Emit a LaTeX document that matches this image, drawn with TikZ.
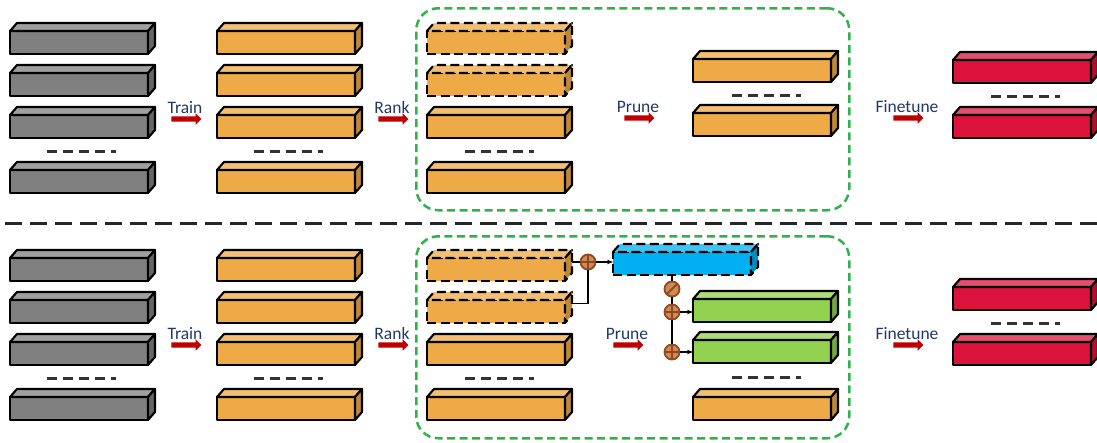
\documentclass[tikz,border=0pt]{standalone}
\usepackage{fontspec}
\setmainfont{Carlito}
\usetikzlibrary{positioning,calc,shapes.arrows,arrows.meta}

\definecolor{slabgray}{HTML}{808080}
\definecolor{slaborange}{HTML}{EEAA47}
\definecolor{slabred}{HTML}{DC143C}
\definecolor{slabblue}{HTML}{00B0F0}
\definecolor{slabgreen}{HTML}{92D050}
\definecolor{stepred}{HTML}{C00000}
\definecolor{steptext}{HTML}{203864}
\definecolor{boxgreen}{HTML}{2DB34A}
\definecolor{opbrown}{HTML}{8E4A1E}
\definecolor{opfill}{HTML}{D08A55}

\tikzset{
  slabfront/.style={draw=black, line width=2.1pt, line join=round, minimum width=138pt,
    minimum height=23pt, inner sep=0pt, outer sep=0pt, anchor=north west},
  slabface/.style={draw=black, line width=2.1pt, line join=round},
  hollow/.style={dash pattern=on 9pt off 4.5pt},
  stepnote/.style={text=steptext, font=\fontsize{17.5}{18}\selectfont, inner sep=1pt},
  steparrow/.style={single arrow, fill=stepred, minimum height=30pt, text height=5pt,
    text depth=0pt, text width=0pt, inner sep=0pt, single arrow head extend=3pt,
    single arrow head indent=0pt},
  gapdots/.style={draw=black!80, line width=3pt, dash pattern=on 10pt off 6pt},
  prunebox/.style={draw=boxgreen, line width=2.5pt, dash pattern=on 8pt off 4.5pt,
    rounded corners=22pt, minimum width=433pt, minimum height=202pt, anchor=north west},
  sepline/.style={draw=black!85, line width=3pt, dash pattern=on 17pt off 8pt},
  opnode/.style={circle, draw=opbrown, fill=opfill, line width=1.8pt, minimum size=15pt, inner sep=0pt},
  oplus/.style={opnode, path picture={\draw[opbrown, line width=1.8pt]
    (path picture bounding box.north) -- (path picture bounding box.south)
    (path picture bounding box.west) -- (path picture bounding box.east);}},
  odiv/.style={opnode, path picture={\draw[opbrown, line width=1.8pt]
    (path picture bounding box.north east) -- (path picture bounding box.south west);}},
  link/.style={draw=black, line width=1.5pt},
}

% one 3d bar: [style] name, x, y (front top left), colour
\newcommand{\slab}[5][]{%
  \node[slabfront, fill=#5, #1] (#2) at (#3,#4) {};
  \filldraw[slabface, fill=#5!75!white, #1] (#2.north west) -- ++(7,-8) -- ++(138,0) -- (#2.north east) -- cycle;
  \filldraw[slabface, fill=#5!80!black, #1] (#2.north east) -- ++(7,-8) -- ++(0,23) -- (#2.south east) -- cycle;
  \coordinate (#2-s) at ($(#2.east)+(7,-8)$);
}

\begin{document}
\begin{tikzpicture}[x=1pt,y=-1pt]
\useasboundingbox (0,0) rectangle (1097,442);

% upper row
\foreach \r/\y in {1/31,2/73,3/115,4/170}{
  \slab{ga\r}{10}{\y}{slabgray}
  \slab{oa\r}{217}{\y}{slaborange}
}
\node[prunebox] (box1) at (415,7) {};
\slab[hollow]{ra1}{427}{31}{slaborange}
\slab[hollow]{ra2}{427}{73}{slaborange}
\slab{ra3}{427}{115}{slaborange}
\slab{ra4}{427}{170}{slaborange}
\slab{pa1}{693}{59}{slaborange}
\slab{pa2}{693}{113}{slaborange}
\slab{fa1}{953}{60}{slabred}
\slab{fa2}{953}{115}{slabred}
\draw[gapdots] (47,151) -- ++(69,0);
\draw[gapdots] (254,151) -- ++(69,0);
\draw[gapdots] (465,151) -- ++(69,0);
\draw[gapdots] (732,95) -- ++(69,0);
\draw[gapdots] (991,96) -- ++(69,0);

\node[steparrow] (ar1) at (185,119) {};
\node[stepnote, above=1pt of ar1] (t1) {Train};
\node[steparrow] (ar2) at (392,119) {};
\node[stepnote, above=1pt of ar2] (t2) {Rank};
\node[steparrow] (ar3) at (638,118) {};
\node[stepnote, above=1pt of ar3] (t3) {Prune};
\node[steparrow] (ar4) at (907,118) {};
\node[stepnote, above=1pt of ar4] (t4) {Finetune};

\draw[sepline] (5,223) -- (1097,223);

% lower row
\foreach \r/\y in {1/258,2/300,3/342,4/397}{
  \slab{gb\r}{10}{\y}{slabgray}
  \slab{ob\r}{217}{\y}{slaborange}
}
\node[prunebox] (box2) at (415,235) {};
\slab[hollow]{rb1}{427}{258}{slaborange}
\slab[hollow]{rb2}{427}{300}{slaborange}
\slab{rb3}{427}{342}{slaborange}
\slab{rb4}{427}{397}{slaborange}
\slab[hollow]{sc}{613}{252}{slabblue}
\slab{pb1}{693}{299}{slabgreen}
\slab{pb2}{693}{340}{slabgreen}
\slab{pb3}{693}{397}{slaborange}
\slab{fb1}{953}{287}{slabred}
\slab{fb2}{953}{342}{slabred}
\draw[gapdots] (47,378) -- ++(69,0);
\draw[gapdots] (254,378) -- ++(69,0);
\draw[gapdots] (465,378) -- ++(69,0);
\draw[gapdots] (732,377) -- ++(69,0);
\draw[gapdots] (991,323) -- ++(69,0);

\node[steparrow] (ar5) at (185,345) {};
\node[stepnote, above=1pt of ar5] (t5) {Train};
\node[steparrow] (ar6) at (392,345) {};
\node[stepnote, above=1pt of ar6] (t6) {Rank};
\node[steparrow] (ar7) at (627,345) {};
\node[stepnote, above=1pt of ar7] (t7) {Prune};
\node[steparrow] (ar8) at (907,345) {};
\node[stepnote, above=1pt of ar8] (t8) {Finetune};

\node[oplus] (m1) at (588,262) {};
\node[odiv] (d1) at (672,289) {};
\node[oplus] (m2) at (672,312) {};
\node[oplus] (m3) at (672,352) {};
\draw[link] (m1 -| rb1-s) -- (m1);
\draw[link] (rb2-s) -| (m1);
\draw[link,-{Stealth[length=6pt]}] (m1) -- (m1 -| sc.west);
\draw[link] (sc.south -| d1) -- (d1);
\draw[link] (d1) -- (m2);
\draw[link] (m2) -- (m3);
\draw[link,-{Stealth[length=6pt]}] (m2) -- (m2 -| pb1.west);
\draw[link,-{Stealth[length=6pt]}] (m3) -- (m3 -| pb2.west);

\end{tikzpicture}
\end{document}
